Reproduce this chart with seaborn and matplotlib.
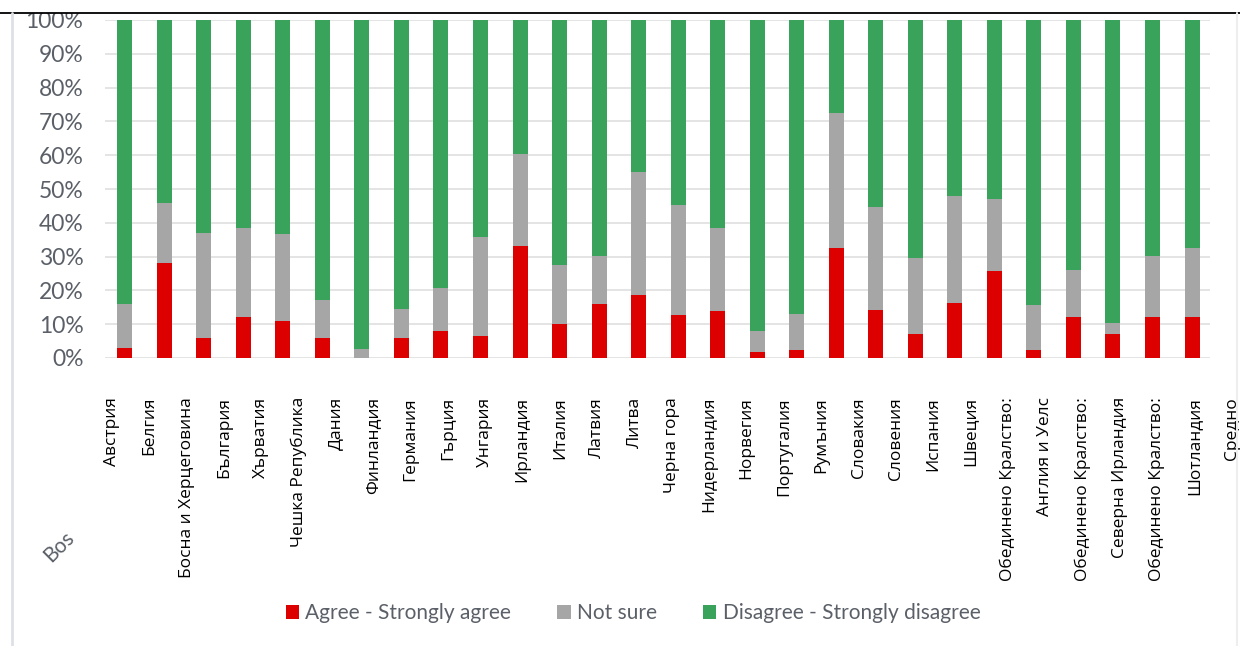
import matplotlib
matplotlib.use("Agg")
import matplotlib.pyplot as plt
import seaborn as sns
import pandas as pd
from matplotlib.patches import Patch, Rectangle
from matplotlib.lines import Line2D

# ---------------- data ----------------
bar_categories = [
    "Австрия", "Белгия", "Босна и Херцеговина", "България", "Хърватия",
    "Чешка Република", "Дания", "Финландия", "Германия", "Гърция",
    "Унгария", "Ирландия", "Италия", "Латвия", "Литва", "Черна гора",
    "Нидерландия", "Норвегия", "Португалия", "Румъния", "Словакия",
    "Словения", "Испания", "Швеция",
    "Обединено Кралство: Англия и Уелс",
    "Обединено Кралство: Северна Ирландия",
    "Обединено Кралство: Шотландия", "Средно",
]
agree = [3, 28, 6, 12, 11, 6, 0, 6, 8, 6.5, 33, 10, 16, 18.5, 12.7, 14,
         1.8, 2.5, 32.6, 14.3, 7, 16.2, 25.6, 2.3, 12, 7, 12, 12]
not_sure = [13, 18, 31, 26.5, 25.7, 11.2, 2.7, 8.5, 12.6, 29.4, 27.3, 17.6,
            14.2, 36.5, 32.7, 24.6, 6.3, 10.6, 40, 30.3, 22.5, 31.6, 21.4,
            13.5, 14.1, 3.3, 18.2, 20.4]
disagree = [100 - a - n for a, n in zip(agree, not_sure)]

tick_labels = [
    "Австрия", "Белгия", "Босна и Херцеговина", "България", "Хърватия",
    "Чешка Република", "Дания", "Финландия", "Германия", "Гърция",
    "Унгария", "Ирландия", "Италия", "Латвия", "Литва", "Черна гора",
    "Нидерландия", "Норвегия", "Португалия", "Румъния", "Словакия",
    "Словения", "Испания", "Швеция", "Обединено Кралство:", "Англия и Уелс",
    "Обединено Кралство:", "Северна Ирландия", "Обединено Кралство:",
    "Шотландия", "Средно",
]
y_ticks = [0, 10, 20, 30, 40, 50, 60, 70, 80, 90, 100]
y_tick_labels = ["0%", "10%", "20%", "30%", "40%", "50%", "60%", "70%",
                 "80%", "90%", "100%"]
series_names = ["Agree - Strongly agree", "Not sure",
                "Disagree - Strongly disagree"]
series_colors = ["#DD0000", "#A6A6A6", "#3AA35B"]

# ---------------- figure ----------------
sns.set_style("white")
plt.rcParams["font.family"] = ["Lato", "DejaVu Sans"]

W, H = 1240, 646
fig = plt.figure(figsize=(W / 100, H / 100), dpi=100)
fig.patch.set_facecolor("white")

ax = fig.add_axes([105 / W, 1 - 358 / H, 1105 / W, 338 / H])

df = pd.DataFrame({
    "cat": bar_categories,
    "s_agree": agree,
    "s_notsure": [a + n for a, n in zip(agree, not_sure)],
    "s_total": [a + n + d for a, n, d in zip(agree, not_sure, disagree)],
})

for col, colr in zip(["s_total", "s_notsure", "s_agree"],
                     [series_colors[2], series_colors[1], series_colors[0]]):
    sns.barplot(data=df, x="cat", y=col, order=bar_categories, color=colr,
                saturation=1, width=0.38, errorbar=None, ax=ax,
                linewidth=0, zorder=3)

ax.set_xlim(-0.5, 27.455)
ax.set_ylim(0, 100)
ax.set_xticks([])
ax.set_xlabel("")
ax.set_ylabel("")
ax.set_yticks(y_ticks)
ax.set_yticklabels(y_tick_labels)
ax.tick_params(axis="y", length=0, pad=15.5, labelsize=16.5, labelcolor="#5b6068")
ax.yaxis.grid(True, color="#e4e4e4", linewidth=1.4)
ax.set_axisbelow(True)
for s in ax.spines.values():
    s.set_visible(False)

# label axis (labels are not aligned with bars in the original)
step = 37.33
x0 = 112
ax_lab = fig.add_axes([(x0 - step / 2) / W, 1 - 358 / H, (31 * step) / W, 0.0001])
ax_lab.set_xlim(-0.5, 30.5)
ax_lab.set_xticks(range(len(tick_labels)))
ax_lab.set_xticklabels(tick_labels, rotation=90, fontsize=12.5,
                       fontfamily=["Open Sans", "DejaVu Sans"], color="black")
ax_lab.tick_params(axis="x", length=0, pad=28)
ax_lab.set_yticks([])
ax_lab.patch.set_alpha(0)
for s in ax_lab.spines.values():
    s.set_visible(False)

# legend
handles = [Patch(facecolor=c, edgecolor="none", label=n)
           for n, c in zip(series_names, series_colors)]
fig.legend(handles=handles, loc="center", bbox_to_anchor=(633 / W, 1 - 613 / H),
           ncol=3, frameon=False, fontsize=15, handlelength=0.65,
           handleheight=0.65, handletextpad=0.3, columnspacing=2.2,
           labelcolor="#5b6068")

# leftover fragment of original label
fig.text(54 / W, 1 - 566 / H, "Bos", rotation=45, rotation_mode="anchor",
         ha="left", va="bottom", fontsize=15, color="#5b6068")

# frame lines of the screenshot
fig.add_artist(Rectangle((0, 1 - 13 / H), 1, 13 / H, transform=fig.transFigure,
                         facecolor="white", edgecolor="none", zorder=10))
fig.add_artist(Line2D([0, 1], [1 - 13 / H, 1 - 13 / H], transform=fig.transFigure,
                      color="black", linewidth=1.3, zorder=11))
fig.add_artist(Line2D([12 / W, 12 / W], [0, 1 - 13 / H], transform=fig.transFigure,
                      color="#dde0e6", linewidth=2, zorder=11))
fig.add_artist(Line2D([1237 / W, 1237 / W], [0, 1 - 13 / H], transform=fig.transFigure,
                      color="#eeeeee", linewidth=1.5, zorder=11))

fig.savefig("out.png", dpi=100, facecolor="white")
